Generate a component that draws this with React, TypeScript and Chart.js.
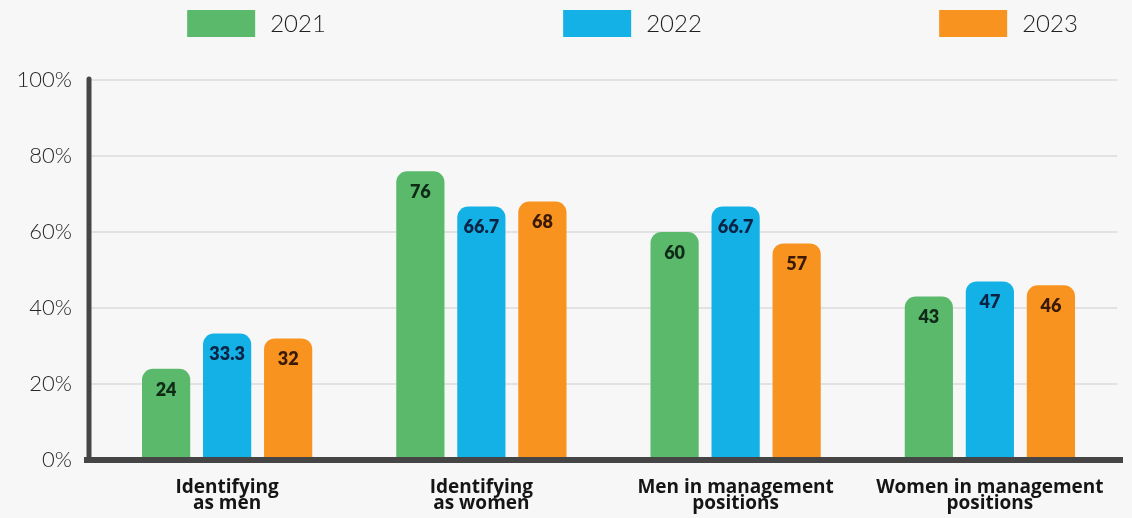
import { useEffect, useRef } from 'react';
import { Chart, registerables } from 'chart.js';

Chart.register(...registerables);

// ---- data ----
const categories: string[][] = [
  ['Identifying', 'as men'],
  ['Identifying', 'as women'],
  ['Men in management', 'positions'],
  ['Women in management', 'positions'],
];
const seriesNames = ['2021', '2022', '2023'];
const values2021 = [24, 76, 60, 43];
const values2022 = [33.3, 66.7, 66.7, 47];
const values2023 = [32, 68, 57, 46];
const yTickValues = [0, 20, 40, 60, 80, 100];

// ---- styles ----
const BG = '#f7f7f7';
const COLORS = ['#5bb96c', '#13b1e6', '#f7931e'];
const LABEL_COLORS = ['#0f2a16', '#0b2344', '#3a1a06'];
const AXIS_COLOR = '#454545';

const bgPlugin = {
  id: 'bgFill',
  beforeDraw(chart: any) {
    const { ctx, width, height } = chart;
    ctx.save();
    ctx.fillStyle = BG;
    ctx.fillRect(0, 0, width, height);
    ctx.restore();
  },
};

const valueLabelPlugin = {
  id: 'valueLabels',
  afterDatasetsDraw(chart: any) {
    const { ctx } = chart;
    ctx.save();
    ctx.font = '800 18px Lato';
    ctx.textAlign = 'center';
    ctx.textBaseline = 'middle';
    chart.data.datasets.forEach((ds: any, di: number) => {
      const meta = chart.getDatasetMeta(di);
      meta.data.forEach((bar: any, i: number) => {
        ctx.fillStyle = LABEL_COLORS[di];
        ctx.fillText(String(ds.data[i]), bar.x, bar.y + 21);
      });
    });
    ctx.restore();
  },
};

const axesPlugin = {
  id: 'customAxes',
  afterDraw(chart: any) {
    const { ctx, chartArea } = chart;
    const yScale = chart.scales.y;
    const top = yScale.getPixelForValue(100);
    const bottom = yScale.getPixelForValue(0);
    ctx.save();
    ctx.strokeStyle = AXIS_COLOR;
    ctx.lineCap = 'round';
    ctx.lineWidth = 5;
    ctx.beginPath();
    ctx.moveTo(chartArea.left - 11, top - 1);
    ctx.lineTo(chartArea.left - 11, bottom);
    ctx.stroke();
    ctx.lineCap = 'butt';
    ctx.lineWidth = 6;
    ctx.beginPath();
    ctx.moveTo(chartArea.left - 16, bottom);
    ctx.lineTo(chartArea.right + 6, bottom);
    ctx.stroke();
    ctx.restore();
  },
};

const legendPlugin = {
  id: 'customLegend',
  afterDraw(chart: any) {
    const { ctx, chartArea } = chart;
    const cx = (chartArea.left + chartArea.right) / 2 + 24;
    const spacing = 376;
    const boxW = 68;
    const boxH = 27;
    const gap = 15;
    ctx.save();
    ctx.font = '300 24px Lato';
    ctx.textBaseline = 'middle';
    ctx.textAlign = 'left';
    chart.data.datasets.forEach((ds: any, i: number) => {
      const tw = ctx.measureText(ds.label).width;
      const w = boxW + gap + tw;
      const x0 = cx + (i - 1) * spacing - w / 2;
      ctx.fillStyle = ds.backgroundColor;
      ctx.fillRect(x0, 10, boxW, boxH);
      ctx.fillStyle = '#1e1e1e';
      ctx.fillText(ds.label, x0 + boxW + gap, 24);
    });
    ctx.restore();
  },
};

export default function App() {
  const ref = useRef<HTMLCanvasElement>(null);

  useEffect(() => {
    document.body.style.margin = '0';
    document.body.style.background = BG;
    const seriesValues = [values2021, values2022, values2023];
    const chart = new Chart(ref.current as HTMLCanvasElement, {
      type: 'bar',
      data: {
        labels: categories,
        datasets: seriesNames.map((name, i) => ({
          label: name,
          data: seriesValues[i],
          backgroundColor: COLORS[i],
          borderRadius: 11,
          borderSkipped: 'start',
          categoryPercentage: 0.72,
          barPercentage: 0.79,
        })),
      },
      options: {
        responsive: false,
        animation: false,
        layout: { padding: { top: 80, right: 15, left: 0, bottom: 0 } },
        plugins: {
          legend: { display: false },
          tooltip: { enabled: false },
        },
        scales: {
          x: {
            grid: { display: false, drawTicks: false },
            border: { display: false },
            ticks: {
              color: '#151515',
              padding: 20,
              font: { family: 'Open Sans', weight: 'bold', size: 19, lineHeight: 0.84 },
              maxRotation: 0,
              autoSkip: false,
            },
            afterFit: (s: any) => {
              s.height = 58;
            },
          },
          y: {
            min: 0,
            max: 100,
            afterBuildTicks: (s: any) => {
              s.ticks = yTickValues.map((v) => ({ value: v }));
            },
            grid: { color: '#e2e2e2', lineWidth: 2, drawTicks: true, tickLength: 12 },
            border: { display: false },
            ticks: {
              color: '#262626',
              padding: 16,
              font: { family: 'Lato', weight: '300', size: 22 },
              callback: (v: any) => v + '%',
            },
            afterFit: (s: any) => {
              s.width = 100;
            },
          },
        },
      },
      plugins: [bgPlugin, valueLabelPlugin, axesPlugin, legendPlugin],
    });
    return () => chart.destroy();
  }, []);

  return (
    <div style={{ width: 1132, height: 518, background: BG }}>
      <canvas ref={ref} width={1132} height={518} style={{ display: 'block' }} />
    </div>
  );
}
